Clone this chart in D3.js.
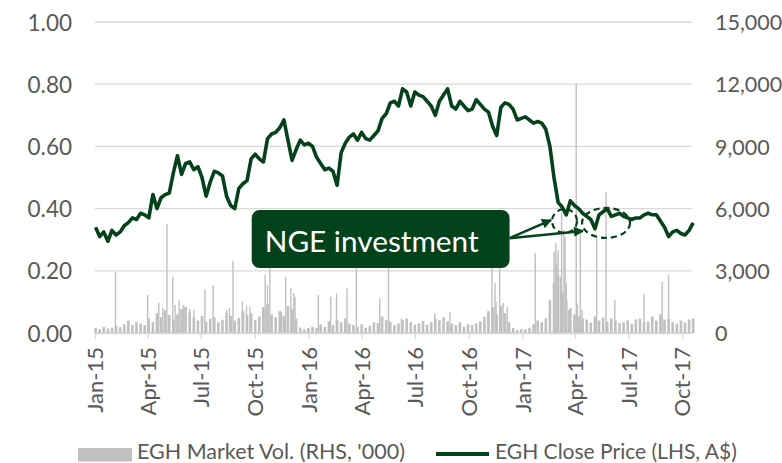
<!DOCTYPE html>
<html>
<head>
<meta charset="utf-8">
<script src="https://cdn.jsdelivr.net/npm/d3@7"></script>
<style>
  body { margin: 0; background: #fff; }
  text { font-family: Lato, "Open Sans", sans-serif; fill: #595959; }
</style>
</head>
<body>
<svg width="782" height="463"></svg>
<script>
// weekly close price (A$), one value per week starting Fri 2 Jan 2015
var priceClose = [
  0.34,0.31,0.325,0.295,0.33,0.315,0.325,0.345,0.355,0.37,
  0.365,0.385,0.38,0.37,0.445,0.40,0.435,0.445,0.45,0.515,
  0.57,0.51,0.545,0.55,0.525,0.535,0.50,0.44,0.485,0.52,
  0.515,0.505,0.44,0.41,0.40,0.465,0.48,0.49,0.56,0.575,
  0.56,0.55,0.625,0.64,0.645,0.66,0.685,0.62,0.555,0.59,
  0.62,0.605,0.61,0.60,0.565,0.545,0.525,0.53,0.52,0.475,
  0.58,0.61,0.63,0.64,0.62,0.645,0.625,0.62,0.635,0.65,
  0.69,0.705,0.74,0.745,0.73,0.785,0.775,0.73,0.775,0.765,
  0.76,0.745,0.73,0.70,0.745,0.765,0.785,0.73,0.72,0.745,
  0.73,0.715,0.72,0.75,0.735,0.72,0.71,0.665,0.635,0.725,
  0.74,0.735,0.72,0.685,0.69,0.695,0.685,0.675,0.68,0.675,
  0.655,0.60,0.50,0.42,0.405,0.38,0.425,0.41,0.40,0.385,
  0.375,0.365,0.335,0.38,0.39,0.40,0.375,0.38,0.385,0.375,
  0.37,0.365,0.37,0.37,0.38,0.385,0.38,0.38,0.36,0.34,
  0.31,0.325,0.33,0.32,0.315,0.33,0.354
];

// typical weekly market volume ('000), same weeks as the price
var volWeekly = [
  250,180,300,220,260, 350,280,420,600,380,
  520,450,380,700,520, 950,760,1100,880,650,
  900,1150,1250,980,720, 600,820,540,680,750,
  520,640,980,820,600, 720,1050,880,950,620,
  800,1250,1400,900,760, 1050,820,1300,1150,700,
  260,180,240,300,250, 420,300,560,380,640,
  520,700,460,380,300, 420,260,350,520,480,
  800,620,540,380,460, 620,700,520,400,460,
  580,400,520,700,620, 760,560,450,380,520,
  300,420,380,460,560, 780,1050,1250,900,1300,
  950,520,240,150,200, 180,250,420,600,520,
  700,1600,2400,2800,2000, 1600,1200,900,800,700,
  650,500,800,600,750, 550,700,600,480,520,
  600,450,650,700,500, 550,800,600,900,650,
  700,520,450,600,500, 650,700
];

// single heavy-volume days ('000)
var spikeDates = [
  "2015-02-05","2015-04-01","2015-04-20","2015-04-27","2015-05-04","2015-05-14","2015-05-18",
  "2015-05-25","2015-06-01","2015-06-02","2015-06-12","2015-06-19","2015-07-08","2015-07-22",
  "2015-08-14","2015-08-19","2015-08-25","2015-09-10","2015-09-17","2015-09-23","2015-10-15",
  "2015-10-19","2015-10-23","2015-10-27","2015-11-16","2015-11-23","2015-11-27","2015-12-02",
  "2015-12-07","2015-12-09","2016-01-18","2016-02-08","2016-02-18","2016-03-07","2016-03-23",
  "2016-05-02","2016-05-17","2016-06-08","2016-08-04","2016-08-30","2016-11-03","2016-11-10",
  "2016-11-15","2016-11-17","2016-11-23","2016-11-29","2016-12-06","2017-01-23","2017-02-24",
  "2017-02-27","2017-03-01","2017-03-03","2017-03-07","2017-03-09","2017-03-13","2017-03-15",
  "2017-03-17","2017-03-21","2017-04-03","2017-04-05","2017-04-10","2017-04-13","2017-05-08",
  "2017-05-24","2017-06-08","2017-07-28","2017-08-28","2017-09-08"
];
var spikeVols = [
  2950,1830,1450,1200,5260,2700,1350,
  1590,1350,1300,1160,1110,2120,2315,
  1110,1200,3490,1510,1300,1250,1200,
  2800,2315,3800,1030,2715,1270,2170,
  1930,1740,1830,1750,1910,2155,3600,
  1670,4200,710,950,1030,1030,3700,
  2410,1510,4000,1450,1250,3850,3920,
  4330,3360,4000,2715,5770,4970,4640,
  2400,1110,12040,1430,4890,1110,4640,
  6820,1590,1880,2475,2800
];

var leftTicks = [0, 0.2, 0.4, 0.6, 0.8, 1.0];
var rightTicks = [0, 3000, 6000, 9000, 12000, 15000];
var legendLabels = ["EGH Market Vol. (RHS, '000)", "EGH Close Price (LHS, A$)"];
var noteText = "NGE investment";

var green = "#04421c", grey = "#c0c0c0";
var svg = d3.select("svg");
var parse = d3.timeParse("%Y-%m-%d");

var weeks = priceClose.map(function(d, i) { return d3.timeDay.offset(new Date(2015, 0, 2), 7 * i); });

var x = d3.scaleTime()
    .domain([new Date(2015, 0, 1), new Date(2017, 9, 18)])
    .range([95, 692]);
var yL = d3.scaleLinear().domain([0, 1]).range([333, 22]);
var yR = d3.scaleLinear().domain([0, 15000]).range([333, 22]);

// shrink or grow a text until it is as wide as in the original
function fitWidth(sel, w) {
    var node = sel.node();
    var fs = parseFloat(sel.style("font-size"));
    sel.style("font-size", (fs * w / node.getComputedTextLength()).toFixed(2) + "px");
}

// gridlines
svg.append("g").selectAll("line")
    .data(leftTicks)
    .enter().append("line")
    .attr("x1", 95).attr("x2", 692)
    .attr("y1", function(d) { return yL(d); })
    .attr("y2", function(d) { return yL(d); })
    .attr("stroke", "#d9d9d9").attr("stroke-width", 1.3);

// volume bars
svg.append("g").selectAll("rect")
    .data(volWeekly)
    .enter().append("rect")
    .attr("x", function(d, i) { return x(weeks[i]) - 1.3; })
    .attr("width", 2.6)
    .attr("y", function(d) { return yR(d); })
    .attr("height", function(d) { return yR(0) - yR(d); })
    .attr("fill", grey);

svg.append("g").selectAll("rect")
    .data(spikeVols)
    .enter().append("rect")
    .attr("x", function(d, i) { return x(parse(spikeDates[i])) - 0.7; })
    .attr("width", 1.4)
    .attr("y", function(d) { return yR(d); })
    .attr("height", function(d) { return yR(0) - yR(d); })
    .attr("fill", grey);

// x axis
var xAxis = d3.axisBottom(x)
    .tickValues(d3.timeMonth.every(3).range(new Date(2015, 0, 1), new Date(2017, 9, 2)))
    .tickFormat(d3.timeFormat("%b-%y"))
    .tickSize(6).tickSizeOuter(0);
var gx = svg.append("g").attr("transform", "translate(0,333)").call(xAxis);
gx.select(".domain").attr("stroke", "#d9d9d9").attr("stroke-width", 1.3);
gx.selectAll(".tick line").attr("stroke", "#d9d9d9").attr("stroke-width", 1.3);
gx.selectAll(".tick text")
    .attr("transform", "rotate(-90)")
    .attr("text-anchor", "end")
    .attr("x", -14).attr("y", 0).attr("dy", "0.36em")
    .style("font-size", "22px").style("font-family", "Lato").attr("fill", "#595959");

// left axis
var gl = svg.append("g").attr("transform", "translate(72,0)")
    .call(d3.axisLeft(yL).tickValues(leftTicks).tickFormat(d3.format(".2f")).tickSize(0));
gl.select(".domain").remove();
gl.selectAll("text").attr("x", 0).attr("dy", "0.36em")
    .style("font-size", "22.5px").style("font-family", "Lato").attr("fill", "#595959");

// right axis
var gr = svg.append("g").attr("transform", "translate(715,0)")
    .call(d3.axisRight(yR).tickValues(rightTicks).tickFormat(d3.format(",")).tickSize(0));
gr.select(".domain").remove();
gr.selectAll("text").attr("x", 0).attr("dy", "0.36em")
    .style("font-size", "21.5px").style("font-family", "Lato").attr("fill", "#595959");

// price line
var line = d3.line()
    .x(function(d, i) { return x(weeks[i]); })
    .y(function(d) { return yL(d); });
svg.append("path")
    .datum(priceClose)
    .attr("d", line)
    .attr("fill", "none")
    .attr("stroke", green)
    .attr("stroke-width", 3.6)
    .attr("stroke-linejoin", "round");

// annotation box
var bx0 = x(new Date(2015, 8, 26)), bx1 = x(new Date(2016, 11, 10));
var by0 = yL(0.3955), by1 = yL(0.209);
svg.append("rect")
    .attr("x", bx0).attr("y", by0)
    .attr("width", bx1 - bx0).attr("height", by1 - by0)
    .attr("rx", 8).attr("fill", green);
var note = svg.append("text")
    .attr("x", bx0 + 13).attr("y", by0 + 42.5)
    .text(noteText)
    .style("font-size", "28px").style("fill", "#fff");
fitWidth(note, 214);

// dashed ellipses round the two events
var e1 = { cx: x(new Date(2017, 2, 14)), cy: yL(0.36), rx: 12.5, ry: 12 };
var e2 = { cx: x(new Date(2017, 4, 24)), cy: yL(0.354), rx: 24, ry: 15 };
svg.selectAll(".ring")
    .data([e1, e2])
    .enter().append("ellipse")
    .attr("cx", function(d) { return d.cx; })
    .attr("cy", function(d) { return d.cy; })
    .attr("rx", function(d) { return d.rx; })
    .attr("ry", function(d) { return d.ry; })
    .attr("fill", "none").attr("stroke", green)
    .attr("stroke-width", 2.2).attr("stroke-dasharray", "6,4");

// arrows
svg.append("defs").append("marker")
    .attr("id", "head").attr("viewBox", "0 0 10 10")
    .attr("refX", 9).attr("refY", 5)
    .attr("markerWidth", 13).attr("markerHeight", 10)
    .attr("markerUnits", "userSpaceOnUse")
    .attr("orient", "auto")
    .append("path").attr("d", "M0,0L10,5L0,10z").attr("fill", green);

var ax = bx1, ay = yL(0.305);
svg.selectAll(".arrow")
    .data([[e1.cx - e1.rx - 1, e1.cy - 1], [e2.cx - e2.rx + 1, e2.cy + 8]])
    .enter().append("line")
    .attr("x1", ax).attr("y1", ay)
    .attr("x2", function(d) { return d[0]; })
    .attr("y2", function(d) { return d[1]; })
    .attr("stroke", green).attr("stroke-width", 2.5)
    .attr("marker-end", "url(#head)");

// legend
var lg = svg.append("g");
lg.append("rect").attr("x", 78).attr("y", 448).attr("width", 54).attr("height", 13.5).attr("fill", grey);
var l1 = lg.append("text").attr("x", 137).attr("y", 458.5).text(legendLabels[0]).style("font-size", "22px");
fitWidth(l1, 268);
lg.append("line").attr("x1", 436).attr("x2", 489).attr("y1", 454).attr("y2", 454)
    .attr("stroke", green).attr("stroke-width", 4);
var l2 = lg.append("text").attr("x", 495).attr("y", 458.5).text(legendLabels[1]).style("font-size", "22px");
fitWidth(l2, 242);
</script>
</body>
</html>
